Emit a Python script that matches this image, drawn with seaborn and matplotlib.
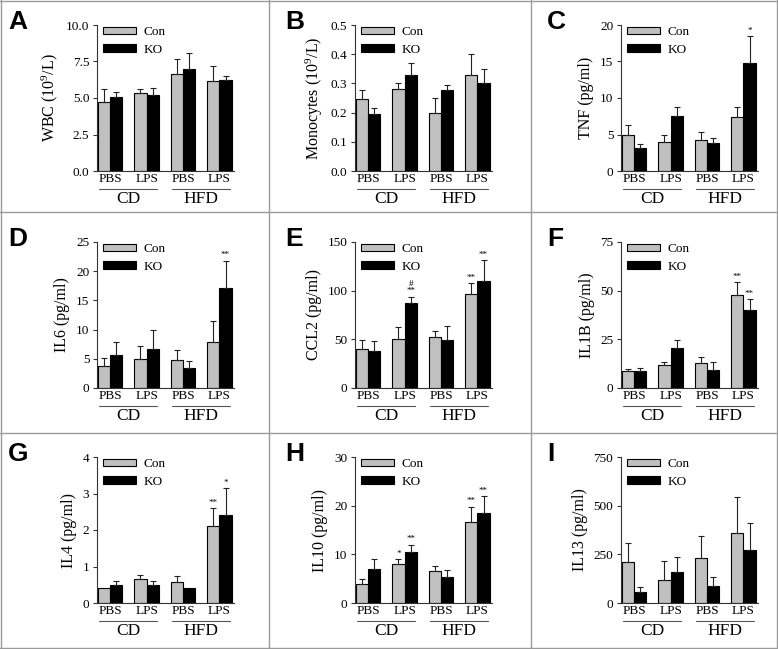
import numpy as np
import pandas as pd
import matplotlib.pyplot as plt
import seaborn as sns
import matplotlib.transforms as mtransforms
from matplotlib.patches import Patch
from matplotlib.lines import Line2D
from matplotlib.ticker import FormatStrFormatter, MultipleLocator

# Shared categories
groups = ["CD PBS", "CD LPS", "HFD PBS", "HFD LPS"]
tick_labels = ["PBS", "LPS", "PBS", "LPS"]
diets = ["CD", "HFD"]
genotypes = ["Con", "KO"]
letters = ["A", "B", "C", "D", "E", "F", "G", "H", "I"]

# Values (mean, upper error)
wbc_con = [4.7, 5.35, 6.65, 6.15]
wbc_con_err = [0.9, 0.25, 1.05, 1.05]
wbc_ko = [5.1, 5.2, 7.0, 6.2]
wbc_ko_err = [0.3, 0.5, 1.05, 0.3]

mono_con = [0.245, 0.28, 0.20, 0.33]
mono_con_err = [0.033, 0.023, 0.05, 0.07]
mono_ko = [0.195, 0.33, 0.278, 0.302]
mono_ko_err = [0.02, 0.04, 0.015, 0.048]

tnf_con = [5.0, 4.0, 4.2, 7.4]
tnf_con_err = [1.3, 0.9, 1.1, 1.3]
tnf_ko = [3.2, 7.6, 3.8, 14.8]
tnf_ko_err = [0.5, 1.1, 0.7, 3.7]

il6_con = [3.8, 5.0, 4.8, 7.8]
il6_con_err = [1.3, 2.2, 1.7, 3.6]
il6_ko = [5.6, 6.6, 3.4, 17.2]
il6_ko_err = [2.3, 3.4, 1.2, 4.6]

ccl2_con = [40, 50, 52, 97]
ccl2_con_err = [9, 13, 7, 11]
ccl2_ko = [38, 87, 49, 110]
ccl2_ko_err = [10, 7, 15, 21]

il1b_con = [8.5, 12, 13, 48]
il1b_con_err = [1.5, 1.5, 3, 6.5]
il1b_ko = [8.5, 20.5, 9.5, 40]
il1b_ko_err = [2, 4, 4, 5.5]

il4_con = [0.4, 0.65, 0.57, 2.1]
il4_con_err = [0, 0.13, 0.16, 0.5]
il4_ko = [0.5, 0.5, 0.4, 2.42]
il4_ko_err = [0.1, 0.1, 0, 0.73]

il10_con = [4, 8, 6.5, 16.7]
il10_con_err = [1, 1, 1.2, 3.1]
il10_ko = [7, 10.5, 5.4, 18.5]
il10_ko_err = [2, 1.5, 1.3, 3.5]

il13_con = [210, 120, 230, 360]
il13_con_err = [100, 95, 115, 185]
il13_ko = [55, 160, 85, 270]
il13_ko_err = [25, 75, 50, 140]

# Significance marks: (group index, genotype index, text)
tnf_marks = [(3, 1, "*")]
il6_marks = [(3, 1, "**")]
ccl2_marks = [(1, 1, "#\n**"), (3, 0, "**"), (3, 1, "**")]
il1b_marks = [(3, 0, "**"), (3, 1, "**")]
il4_marks = [(3, 0, "**"), (3, 1, "*")]
il10_marks = [(1, 0, "*"), (1, 1, "**"), (3, 0, "**"), (3, 1, "**")]

panels = [
    ("WBC (10$^9$/L)", wbc_con, wbc_con_err, wbc_ko, wbc_ko_err, 10, 2.5, "%.1f", []),
    ("Monocytes (10$^9$/L)", mono_con, mono_con_err, mono_ko, mono_ko_err, 0.5, 0.1, "%.1f", []),
    ("TNF (pg/ml)", tnf_con, tnf_con_err, tnf_ko, tnf_ko_err, 20, 5, "%d", tnf_marks),
    ("IL6 (pg/ml)", il6_con, il6_con_err, il6_ko, il6_ko_err, 25, 5, "%d", il6_marks),
    ("CCL2 (pg/ml)", ccl2_con, ccl2_con_err, ccl2_ko, ccl2_ko_err, 150, 50, "%d", ccl2_marks),
    ("IL1B (pg/ml)", il1b_con, il1b_con_err, il1b_ko, il1b_ko_err, 75, 25, "%d", il1b_marks),
    ("IL4 (pg/ml)", il4_con, il4_con_err, il4_ko, il4_ko_err, 4, 1, "%d", il4_marks),
    ("IL10 (pg/ml)", il10_con, il10_con_err, il10_ko, il10_ko_err, 30, 10, "%d", il10_marks),
    ("IL13 (pg/ml)", il13_con, il13_con_err, il13_ko, il13_ko_err, 750, 250, "%d", []),
]

sns.set_theme(style="ticks")
plt.rcParams["font.family"] = ["Liberation Serif", "DejaVu Serif"]
plt.rcParams["mathtext.fontset"] = "stix"
plt.rcParams["mathtext.default"] = "regular"
for key in ["text.color", "axes.labelcolor", "xtick.color", "ytick.color"]:
    plt.rcParams[key] = "black"

W, H = 778, 649
fig = plt.figure(figsize=(W / 100, H / 100), dpi=100)

col_left = [97, 355, 621]
row_top = [25, 242, 457]
ax_w, ax_h = 137, 146
letter_x = [8, 285, 547]
letter_y = [10, 227, 442]
colors = ["#c0c0c0", "black"]

for i, (ylabel, con, con_err, ko, ko_err, ymax, step, fmt, marks) in enumerate(panels):
    r, c = divmod(i, 3)
    ax = fig.add_axes([col_left[c] / W, 1 - (row_top[r] + ax_h) / H, ax_w / W, ax_h / H])

    df = pd.DataFrame({
        "group": groups * 2,
        "genotype": ["Con"] * 4 + ["KO"] * 4,
        "value": con + ko,
    })
    sns.barplot(data=df, x="group", y="value", hue="genotype", order=groups,
                hue_order=genotypes, palette=colors, width=0.667, edgecolor="black",
                linewidth=0.8, errorbar=None, legend=False, saturation=1, ax=ax)

    tops = {}
    for k, (cont, errs) in enumerate(zip(ax.containers, [con_err, ko_err])):
        for g, (bar, e) in enumerate(zip(cont, errs)):
            x = bar.get_x() + bar.get_width() / 2
            h = bar.get_height()
            tops[(g, k)] = (x, h + e)
            if e > 0:
                ax.errorbar(x, h, yerr=[[0], [e]], color="#222", lw=0.8,
                            capsize=2.2, capthick=0.8, zorder=1)

    for g, k, txt in marks:
        x, y = tops[(g, k)]
        ax.annotate(txt, (x, y), xytext=(0, 1), textcoords="offset points",
                    ha="center", va="bottom", fontsize=6.5, linespacing=0.8)

    ax.set_xlim(-0.36, 3.4)
    ax.set_ylim(0, ymax)
    ax.yaxis.set_major_locator(MultipleLocator(step))
    ax.yaxis.set_major_formatter(FormatStrFormatter(fmt))
    sns.despine(ax=ax)
    for s in ["left", "bottom"]:
        ax.spines[s].set_linewidth(0.8)
        ax.spines[s].set_color("#333")
    ax.set_xlabel("")
    ax.set_ylabel(ylabel, fontsize=11.5, labelpad=4)
    ax.set_xticks(range(4))
    ax.set_xticklabels(tick_labels, fontsize=9.5)
    ax.tick_params(axis="x", length=0, pad=1.5)
    ax.tick_params(axis="y", length=3, width=0.8, labelsize=9.5, pad=2.5, color="#333")

    handles = [Patch(facecolor=colors[0], edgecolor="black", lw=0.8),
               Patch(facecolor=colors[1], edgecolor="black", lw=0.8)]
    ax.legend(handles, genotypes, loc="upper left", bbox_to_anchor=(0.045, 0.99),
              frameon=False, fontsize=9.5, handlelength=2.5, handleheight=0.45,
              handletextpad=0.55, labelspacing=0.4, borderpad=0, borderaxespad=0)

    trans = mtransforms.blended_transform_factory(ax.transData, ax.transAxes)
    for d, (x0, x1) in zip(diets, [(-0.3, 1.3), (1.7, 3.3)]):
        ax.plot([x0, x1], [-0.125, -0.125], transform=trans, clip_on=False,
                color="#555", lw=0.8)
        ax.text((x0 + x1) / 2, -0.14, d, transform=trans, ha="center", va="top",
                fontsize=12.5)

    fig.text(letter_x[c] / W, 1 - letter_y[r] / H, letters[i], ha="left", va="top",
             fontsize=19, fontweight="bold", family="Liberation Sans", color="black")

# Panel grid lines
grid_col = "#9a9a9a"
for x in [1, 269, 531, 777]:
    fig.add_artist(Line2D([x / W, x / W], [0, 1], transform=fig.transFigure,
                          color=grid_col, lw=1))
for y in [1, 212, 433, 648]:
    fig.add_artist(Line2D([0, 1], [1 - y / H, 1 - y / H], transform=fig.transFigure,
                          color=grid_col, lw=1))

fig.savefig("out.png", dpi=100)
